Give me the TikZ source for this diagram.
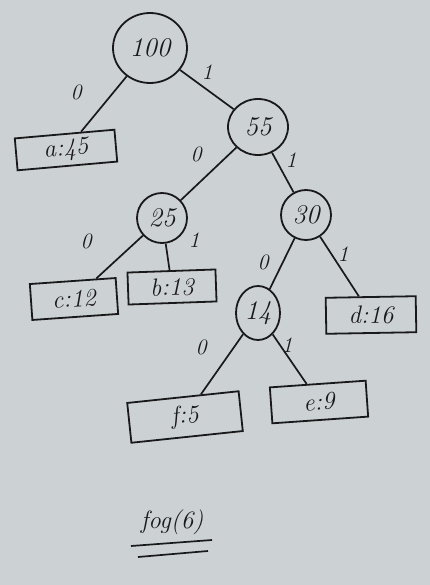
\documentclass[tikz,border=0pt]{standalone}
\usetikzlibrary{shapes.geometric}
\definecolor{paper}{RGB}{204,209,211}
\definecolor{ink}{RGB}{25,25,28}
\begin{document}
\begin{tikzpicture}[x=1pt,y=-1pt,
  inner/.style={ellipse,draw=ink,line width=1.8pt,inner sep=0pt,font=\fontsize{27}{30}\selectfont\itshape,text=ink},
  leaf/.style={rectangle,draw=ink,line width=1.8pt,minimum height=32pt,font=\fontsize{25}{28}\selectfont\itshape,text=ink},
  edge/.style={draw=ink,line width=1.7pt},
  bit/.style={font=\fontsize{22}{26}\selectfont\itshape,text=ink}]
\fill[paper] (0,0) rectangle (430,585);
\useasboundingbox (0,0) rectangle (430,585);
% internal nodes
\node[inner,minimum width=74pt,minimum height=70pt] (n100) at (150,48) {100};
\node[inner,minimum width=60pt,minimum height=56pt] (n55) at (258,127) {55};
\node[inner,minimum width=50pt,minimum height=50pt] (n25) at (162,218) {25};
\node[inner,minimum width=50pt,minimum height=50pt] (n30) at (306,215) {30};
\node[inner,minimum width=44pt,minimum height=54pt] (n14) at (258,313) {14};
% leaves
\node[leaf,minimum width=100pt,rotate=5] (a) at (66,150) {a:45};
\node[leaf,minimum width=86pt,minimum height=36pt,rotate=4] (c) at (74,299) {c:12};
\node[leaf,minimum width=88pt,rotate=2] (b) at (172,287) {b:13};
\node[leaf,minimum width=90pt,minimum height=36pt,rotate=1] (d) at (371,315) {d:16};
\node[leaf,minimum width=112pt,minimum height=40pt,rotate=6] (f) at (185,417) {f:5};
\node[leaf,minimum width=96pt,minimum height=36pt,rotate=4] (e) at (319,402) {e:9};
% edges
\draw[edge] (n100) -- (a);
\draw[edge] (n100) -- (n55);
\draw[edge] (n55) -- (n25);
\draw[edge] (n55) -- (n30);
\draw[edge] (n25) -- (c);
\draw[edge] (n25) -- (b);
\draw[edge] (n30) -- (n14);
\draw[edge] (n30) -- (d);
\draw[edge] (n14) -- (f);
\draw[edge] (n14) -- (e);
% bit labels
\node[bit] (l1) at (76,92) {0};
\node[bit] (l2) at (207,72) {1};
\node[bit] (l3) at (196,154) {0};
\node[bit] (l4) at (291,160) {1};
\node[bit] (l5) at (86,241) {0};
\node[bit] (l6) at (194,240) {1};
\node[bit] (l7) at (263,262) {0};
\node[bit] (l8) at (343,254) {1};
\node[bit] (l9) at (201,347) {0};
\node[bit] (l10) at (287,345) {1};
% caption
\node[font=\fontsize{25}{28}\selectfont\itshape,text=ink] (cap) at (172,522) {fog(6)};
\draw[edge] (131,546) -- (212,540);
\draw[edge] (138,557) -- (208,551);
\end{tikzpicture}
\end{document}
